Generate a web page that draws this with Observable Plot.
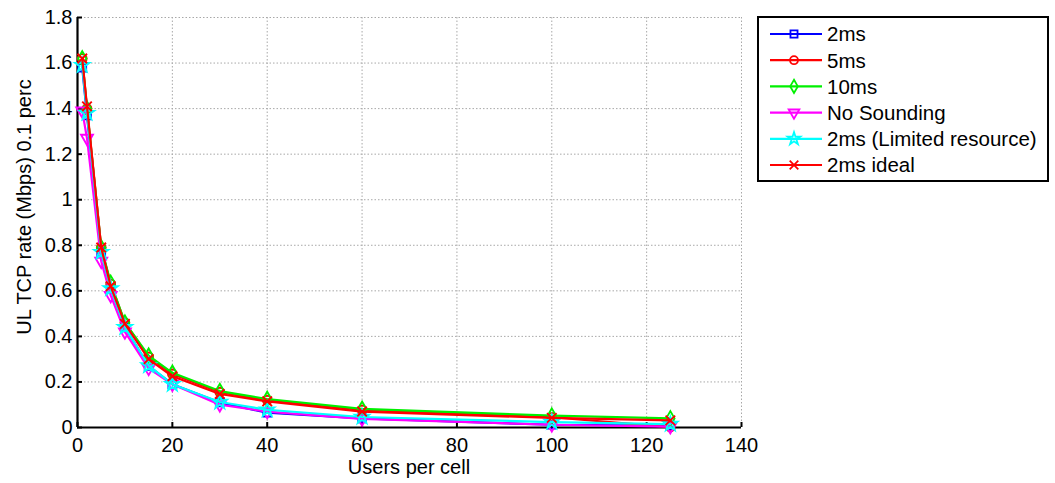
<!DOCTYPE html>
<html>
<head>
<meta charset="utf-8">
<script src="https://cdn.jsdelivr.net/npm/d3@7"></script>
<script src="https://cdn.jsdelivr.net/npm/@observablehq/plot@0.6"></script>
<style>
  html, body { margin: 0; padding: 0; background: #fff; }
  #chart { position: relative; width: 1055px; height: 483px; }
  #chart svg { display: block; }
</style>
</head>
<body>
<div id="chart"></div>
<script>
// Users per cell (x) and uplink TCP rate at the 0.1 percentile (Mbps)
const users = [1, 2, 5, 7, 10, 15, 20, 30, 40, 60, 100, 125];

const seriesNames = ["2ms", "5ms", "10ms", "No Sounding", "2ms (Limited resource)", "2ms ideal"];
const seriesColors = ["#0000ff", "#ff0000", "#00f000", "#ff00ff", "#00ffff", "#ff0000"];
const seriesSymbols = ["square", "circle", "diamond", "triangle", "star", "times"];
const seriesRotate = [0, 0, 0, 180, 0, 0];

const rate2ms      = [1.58, 1.37, 0.77, 0.61, 0.44, 0.27, 0.19, 0.11, 0.065, 0.040, 0.012, 0.008];
const rate5ms      = [1.62, 1.40, 0.79, 0.63, 0.46, 0.31, 0.235, 0.155, 0.120, 0.077, 0.045, 0.002];
const rate10ms     = [1.62, 1.40, 0.79, 0.635, 0.46, 0.315, 0.24, 0.160, 0.125, 0.082, 0.052, 0.040];
const rateNoSound  = [1.39, 1.27, 0.73, 0.58, 0.42, 0.26, 0.19, 0.100, 0.070, 0.038, 0.012, 0.004];
const rateLimited  = [1.59, 1.38, 0.77, 0.61, 0.44, 0.272, 0.19, 0.112, 0.078, 0.046, 0.024, 0.015];
const rateIdeal    = [1.62, 1.41, 0.79, 0.62, 0.455, 0.30, 0.225, 0.147, 0.115, 0.070, 0.042, 0.031];

const xTicks = [0, 20, 40, 60, 80, 100, 120, 140];
const yTicks = [0, 0.2, 0.4, 0.6, 0.8, 1, 1.2, 1.4, 1.6, 1.8];

const xLabel = "Users per cell";
const yLabel = "UL TCP rate (Mbps) 0.1 perc";

const seriesValues = [rate2ms, rate5ms, rate10ms, rateNoSound, rateLimited, rateIdeal];
const tables = seriesValues.map((vals, i) =>
  users.map((u, j) => ({series: seriesNames[i], users: u, rate: vals[j]})));

const font = "'Liberation Sans', Arial, Helvetica, sans-serif";
const grid = {stroke: "#a8a8a8", strokeOpacity: 1, strokeWidth: 1, strokeDasharray: "1.5,2"};

const seriesMarks = tables.flatMap((t, i) => [
  Plot.line(t, {x: "users", y: "rate", stroke: seriesColors[i], strokeWidth: 2.2}),
  Plot.dot(t, {x: "users", y: "rate", stroke: seriesColors[i], symbol: seriesSymbols[i],
    rotate: seriesRotate[i], r: 4.4, strokeWidth: 1.9, fill: "none"})
]);

const chart = Plot.plot({
  width: 1055,
  height: 483,
  marginLeft: 77,
  marginRight: 314,
  marginTop: 17,
  marginBottom: 56,
  style: {fontFamily: font, fontSize: "20px", background: "#fff", color: "#000", overflow: "visible"},
  x: {domain: [0, 140]},
  y: {domain: [0, 1.8]},
  marks: [
    Plot.gridX(xTicks.slice(1), grid),
    Plot.gridY(yTicks.slice(1), grid),
    Plot.axisX(xTicks, {tickSize: -5, tickPadding: 15, strokeWidth: 2, label: null, fontSize: 20}),
    Plot.axisY(yTicks, {tickSize: -5, tickPadding: 10, strokeWidth: 2, label: null, fontSize: 20,
      tickFormat: d => String(d)}),
    Plot.ruleY([0], {stroke: "#000", strokeWidth: 2.2}),
    Plot.ruleX([0], {stroke: "#000", strokeWidth: 2.2}),
    ...seriesMarks
  ]
});

document.getElementById("chart").appendChild(chart);

const svg = d3.select(chart);

// Axis titles
svg.append("text")
  .attr("x", 409).attr("y", 474)
  .attr("text-anchor", "middle").attr("font-family", font).attr("font-size", 20)
  .attr("fill", "#000").text(xLabel);

svg.append("text")
  .attr("transform", "translate(31,207) rotate(-90)")
  .attr("text-anchor", "middle").attr("font-family", font).attr("font-size", 20)
  .attr("fill", "#000").text(yLabel);

// Legend box to the right of the plot area
const legend = svg.append("g")
  .attr("transform", "translate(758,17)")
  .attr("font-family", font)
  .attr("font-size", 20.5)
  .attr("text-anchor", "start");

legend.append("rect")
  .attr("x", 0).attr("y", 0).attr("width", 290).attr("height", 164)
  .attr("fill", "#fff").attr("stroke", "#000").attr("stroke-width", 2);

const symbolTypes = {
  square: d3.symbolSquare, circle: d3.symbolCircle, diamond: d3.symbolDiamond,
  triangle: d3.symbolTriangle, star: d3.symbolStar, times: d3.symbolTimes
};

seriesNames.forEach((name, i) => {
  const row = legend.append("g").attr("transform", `translate(0,${17 + i * 26.2})`);
  row.append("line").attr("x1", 12).attr("x2", 64).attr("y1", 0).attr("y2", 0)
    .attr("stroke", seriesColors[i]).attr("stroke-width", 2.2);
  row.append("path")
    .attr("d", d3.symbol(symbolTypes[seriesSymbols[i]], 50)())
    .attr("transform", `translate(36,0) rotate(${seriesRotate[i]})`)
    .attr("fill", "none").attr("stroke", seriesColors[i]).attr("stroke-width", 1.8);
  row.append("text").attr("x", 69).attr("y", 0).attr("dy", "0.36em")
    .attr("text-anchor", "start").attr("fill", "#000").text(name);
});
</script>
</body>
</html>
